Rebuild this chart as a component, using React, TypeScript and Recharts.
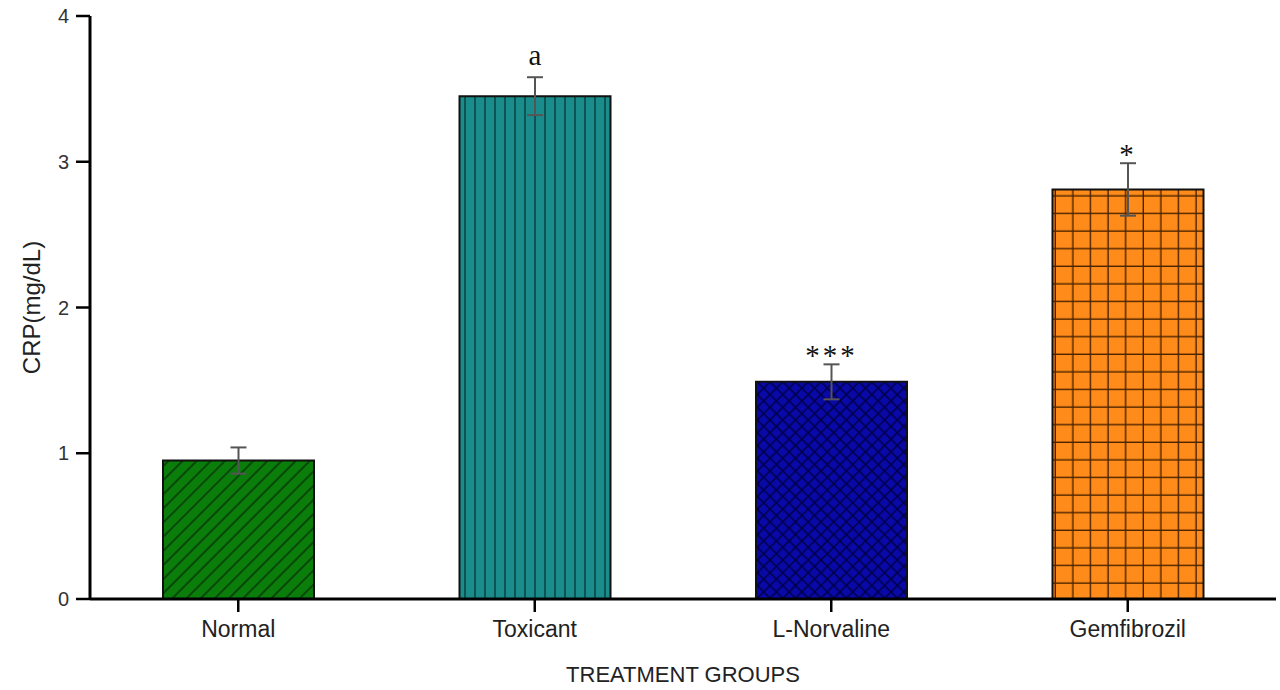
import React from 'react';
import { BarChart, Bar, XAxis, YAxis, Cell, ErrorBar, LabelList, Label } from 'recharts';

const categories = ['Normal', 'Toxicant', 'L-Norvaline', 'Gemfibrozil'];
const means = [0.95, 3.45, 1.49, 2.81];
const errors = [0.09, 0.13, 0.12, 0.18];
const marks = ['', 'a', '***', '*'];
const yTicks = [0, 1, 2, 3, 4];
const patternIds = ['pGreen', 'pTeal', 'pBlue', 'pOrange'];

const data = categories.map((c, i) => ({ name: c, value: means[i], err: errors[i], mark: marks[i] }));

const MarkLabel = (props: any) => {
  const { x, y, width, height, value } = props;
  if (!value) return null;
  let idx = typeof props.index === 'number' ? props.index : marks.indexOf(value);
  if (idx < 0) idx = marks.indexOf(value);
  const errPx = (errors[idx] * Math.abs(height)) / means[idx];
  const errTop = y - errPx;
  const isStar = String(value).includes('*');
  const baseline = isStar ? errTop + 1 : errTop - 12;
  return (
    <text
      x={x + width / 2}
      y={baseline}
      textAnchor="middle"
      fontFamily="'Liberation Serif', 'Times New Roman', serif"
      fontSize={29}
      letterSpacing={isStar ? 3 : 0}
      fill="#111"
    >
      {value}
    </text>
  );
};

export default function App() {
  return (
    <div style={{ position: 'absolute', left: 0, top: 0, width: 1280, height: 690, background: '#fff' }}>
      <BarChart
        width={1280}
        height={690}
        data={data}
        margin={{ top: 16, right: 4, left: 0, bottom: 0 }}
        barCategoryGap="25%"
      >
        <defs>
          <pattern id="pGreen" patternUnits="userSpaceOnUse" width="10" height="10" patternTransform="rotate(45)">
            <rect width="10" height="10" fill="#0b7d0b" />
            <line x1="5" y1="0" x2="5" y2="10" stroke="#073a07" strokeWidth="1.6" />
          </pattern>
          <pattern id="pTeal" patternUnits="userSpaceOnUse" width="10" height="10">
            <rect width="10" height="10" fill="#1b8c8c" />
            <line x1="5" y1="0" x2="5" y2="10" stroke="#0c4e4e" strokeWidth="1.8" />
          </pattern>
          <pattern id="pBlue" patternUnits="userSpaceOnUse" width="9" height="9" patternTransform="rotate(45)">
            <rect width="9" height="9" fill="#0909aa" />
            <line x1="4.5" y1="0" x2="4.5" y2="9" stroke="#00004a" strokeWidth="1.6" />
            <line x1="0" y1="4.5" x2="9" y2="4.5" stroke="#00004a" strokeWidth="1.6" />
          </pattern>
          <pattern id="pOrange" patternUnits="userSpaceOnUse" width="17.6" height="17.6" x="0" y="3">
            <rect width="17.6" height="17.6" fill="#ff8c1a" />
            <line x1="17" y1="0" x2="17" y2="17.6" stroke="#4a2200" strokeWidth="1.6" />
            <line x1="0" y1="17" x2="17.6" y2="17" stroke="#4a2200" strokeWidth="1.6" />
          </pattern>
        </defs>
        <Bar dataKey="value" barSize={151} isAnimationActive={false}>
          {data.map((d, i) => (
            <Cell key={d.name} fill={`url(#${patternIds[i]})`} stroke="#111" strokeWidth={2} />
          ))}
          <ErrorBar dataKey="err" width={8} stroke="#555" strokeWidth={2} direction="y" />
          <LabelList dataKey="mark" content={MarkLabel} />
        </Bar>
        <XAxis
          xAxisId="top"
          orientation="top"
          dataKey="name"
          height={0}
          tick={false}
          tickLine={false}
          axisLine={{ stroke: '#777', strokeWidth: 2 }}
        />
        <YAxis
          yAxisId="right"
          orientation="right"
          width={0}
          domain={[0, 4]}
          tick={false}
          tickLine={false}
          axisLine={{ stroke: '#777', strokeWidth: 2 }}
        />
        <XAxis
          dataKey="name"
          height={91}
          tickSize={13}
          tickMargin={9}
          tickLine={{ stroke: '#000', strokeWidth: 2.5 }}
          axisLine={{ stroke: '#000', strokeWidth: 3 }}
          tick={{ fill: '#222', fontSize: 23, fontFamily: 'Arial, "Liberation Sans", sans-serif' }}
        >
          <Label
            value="TREATMENT GROUPS"
            position="insideBottom"
            offset={8}
            style={{ fill: '#222', fontSize: 22, fontFamily: 'Arial, "Liberation Sans", sans-serif' }}
          />
        </XAxis>
        <YAxis
          width={90}
          domain={[0, 4]}
          ticks={yTicks}
          interval={0}
          tickSize={14}
          tickMargin={7}
          tickLine={{ stroke: '#000', strokeWidth: 2.5 }}
          axisLine={{ stroke: '#000', strokeWidth: 3 }}
          tick={{ fill: '#333', fontSize: 20, fontFamily: 'Arial, "Liberation Sans", sans-serif' }}
        >
          <Label
            content={(p: any) => {
              const vb = p.viewBox || { x: 0, y: 16, width: 90, height: 583 };
              const cx = vb.x + 34;
              const cy = vb.y + vb.height / 2;
              return (
                <text
                  x={cx}
                  y={cy}
                  transform={`rotate(-90 ${cx} ${cy})`}
                  textAnchor="middle"
                  dominantBaseline="middle"
                  fill="#222"
                  fontSize={24}
                  fontFamily='Arial, "Liberation Sans", sans-serif'
                >
                  CRP(mg/dL)
                </text>
              );
            }}
          />
        </YAxis>
      </BarChart>
    </div>
  );
}
